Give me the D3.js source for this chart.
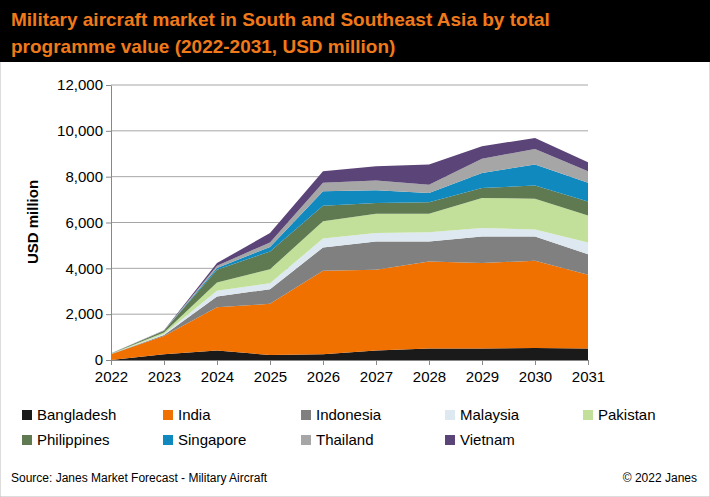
<!DOCTYPE html><html><head><meta charset="utf-8">
<script src="https://cdn.jsdelivr.net/npm/d3@7"></script>
<style>body{margin:0;background:#fff;font-family:Arial,"Liberation Sans",sans-serif}</style></head><body>
<svg id="c" width="710" height="497"></svg>
<script>
const years=[2022,2023,2024,2025,2026,2027,2028,2029,2030,2031];
const series=["Bangladesh","India","Indonesia","Malaysia","Pakistan","Philippines","Singapore","Thailand","Vietnam"];
const colors=["#1a1a1a","#f07000","#808080","#dde8f0","#c3e09a","#5f7a50","#1089bf","#a6a6a6","#5b4578"];
const bangladesh=[0,250,410,220,250,410,500,500,520,500];
const india=[250,800,1890,2230,3650,3530,3800,3730,3810,3220];
const indonesia=[10,40,470,640,1010,1230,870,1160,1060,900];
const malaysia=[5,50,250,260,390,370,400,370,300,510];
const pakistan=[10,60,360,610,750,840,810,1310,1350,1180];
const philippines=[10,80,560,780,680,470,500,440,570,610];
const singapore=[0,0,80,190,630,560,410,650,920,810];
const thailand=[5,10,90,200,370,420,360,620,680,510];
const vietnam=[0,10,120,410,510,620,880,550,480,390];
const yTicks=[0,2000,4000,6000,8000,10000,12000];
const vals=[bangladesh,india,indonesia,malaysia,pakistan,philippines,singapore,thailand,vietnam];
const data=years.map((y,i)=>{const o={year:y};series.forEach((s,j)=>o[s]=vals[j][i]);return o;});
const svg=d3.select("#c");
svg.append("rect").attr("width",710).attr("height",497).attr("fill","#fff").attr("stroke","#bbb");
svg.append("rect").attr("width",710).attr("height",62).attr("fill","#000");
svg.append("text").attr("x",11).attr("y",26).attr("fill","#f07a1a").attr("font-size",19).attr("font-weight","bold").text("Military  aircraft market in South and Southeast Asia by total");
svg.append("text").attr("x",11).attr("y",53).attr("fill","#f07a1a").attr("font-size",19).attr("font-weight","bold").text("programme value (2022-2031, USD million)");
const x=d3.scaleLinear().domain([2022,2031]).range([111,588]);
const y=d3.scaleLinear().domain([0,12000]).range([360,85]);
const g=svg.append("g");
g.selectAll("line.g").data(yTicks.slice(1)).join("line").attr("x1",111).attr("x2",588).attr("y1",d=>y(d)).attr("y2",d=>y(d)).attr("stroke","#a6a6a6");
const st=d3.stack().keys(series)(data);
const area=d3.area().x(d=>x(d.data.year)).y0(d=>y(d[0])).y1(d=>y(d[1]));
g.selectAll("path.a").data(st).join("path").attr("d",area).attr("fill",(d,i)=>colors[i]);
const ax=svg.append("g").attr("transform","translate(0,360)").call(d3.axisBottom(x).tickValues(years).tickFormat(d3.format("d")).tickSizeOuter(0).tickSize(5));
ax.selectAll("text").attr("font-size",15).attr("fill","#000").attr("dy","0.9em");
const ay=svg.append("g").attr("transform","translate(111,0)").call(d3.axisLeft(y).tickValues(yTicks).tickFormat(d3.format(",")).tickSize(5).tickSizeOuter(0));
ay.selectAll("text").attr("font-size",15).attr("fill","#000");
svg.selectAll(".domain,.tick line").attr("stroke","#888");
svg.append("text").attr("transform","translate(38,222) rotate(-90)").attr("text-anchor","middle").attr("font-size",15).attr("font-weight","bold").text("USD million");
const lx=[22,163,301,445,583],ly=[420,445];
series.forEach((s,i)=>{const c=i%5,r=Math.floor(i/5);
 svg.append("rect").attr("x",lx[c]).attr("y",ly[r]-10).attr("width",10).attr("height",10).attr("fill",colors[i]);
 svg.append("text").attr("x",lx[c]+15).attr("y",ly[r]).attr("font-size",15).text(s);});
svg.append("text").attr("x",11).attr("y",482).attr("font-size",12).text("Source: Janes Market Forecast - Military Aircraft");
svg.append("text").attr("x",697).attr("y",482).attr("text-anchor","end").attr("font-size",12).text("© 2022 Janes");
</script></body></html>
